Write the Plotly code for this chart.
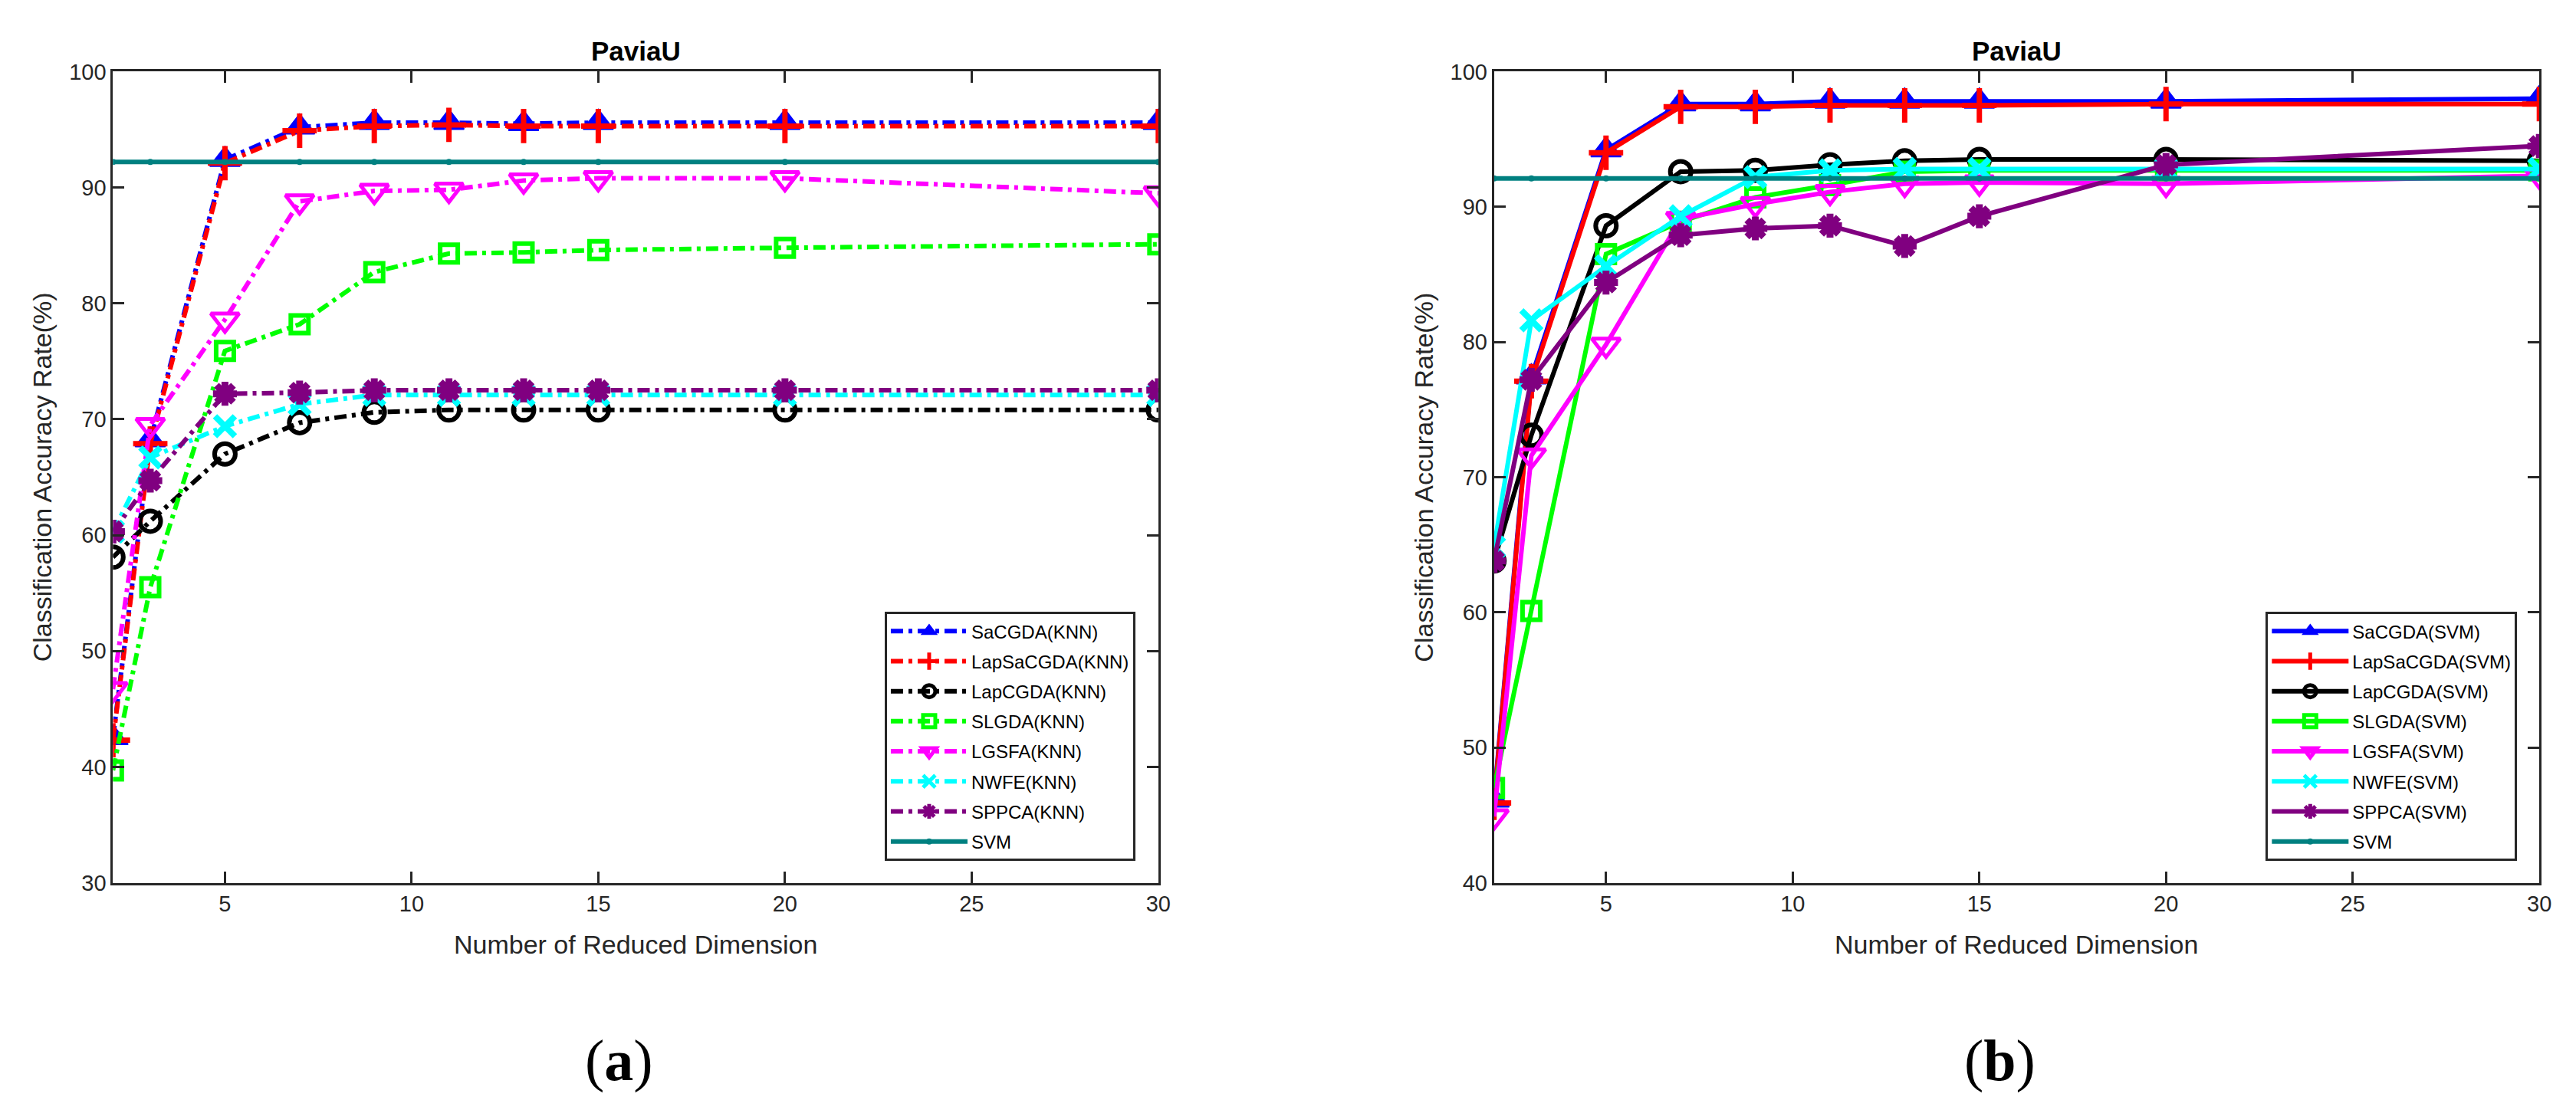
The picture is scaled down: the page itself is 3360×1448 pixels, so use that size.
import plotly.graph_objects as go

# reduced dimensions (x axis, both panels)
dims = [2, 3, 5, 7, 9, 11, 13, 15, 20, 30]

# (a) KNN classifier accuracies (%)
knn_sacgda = [42.5, 68.2, 92.4, 95.2, 95.6, 95.6, 95.5, 95.6, 95.6, 95.6]
knn_lapsacgda = [42.3, 67.9, 92.1, 94.9, 95.3, 95.4, 95.3, 95.3, 95.3, 95.3]
knn_lapcgda = [58.1, 61.2, 67.0, 69.7, 70.6, 70.8, 70.8, 70.8, 70.8, 70.8]
knn_slgda = [39.7, 55.5, 75.9, 78.2, 82.7, 84.3, 84.4, 84.6, 84.8, 85.1]
knn_lgsfa = [46.7, 69.5, 78.6, 88.8, 89.7, 89.8, 90.6, 90.8, 90.8, 89.5]
knn_nwfe = [60.3, 66.7, 69.4, 71.3, 72.1, 72.1, 72.1, 72.1, 72.1, 72.1]
knn_sppca = [60.3, 64.7, 72.2, 72.3, 72.5, 72.5, 72.5, 72.5, 72.5, 72.5]
knn_svm = [92.2] * len(dims)

# (b) SVM classifier accuracies (%)
svm_sacgda = [46.1, 77.4, 94.2, 97.6, 97.6, 97.8, 97.8, 97.8, 97.8, 98.0]
svm_lapsacgda = [45.9, 77.1, 94.0, 97.4, 97.4, 97.5, 97.5, 97.5, 97.6, 97.6]
svm_lapcgda = [63.8, 73.1, 88.6, 92.6, 92.7, 93.1, 93.4, 93.5, 93.5, 93.4]
svm_slgda = [47.0, 60.1, 86.5, 88.9, 90.7, 91.6, 92.6, 92.7, 92.7, 92.7]
svm_lgsfa = [44.9, 71.6, 79.8, 89.1, 90.2, 91.1, 91.7, 91.8, 91.7, 92.3]
svm_nwfe = [64.8, 81.6, 85.6, 89.3, 92.2, 92.7, 92.8, 92.8, 92.8, 92.8]
svm_sppca = [63.8, 77.2, 84.4, 87.9, 88.4, 88.6, 87.1, 89.3, 93.1, 94.5]
svm_svm = [92.1] * len(dims)

methods = ["SaCGDA", "LapSaCGDA", "LapCGDA", "SLGDA", "LGSFA", "NWFE", "SPPCA"]

W, H = 3360, 1448
AX = "#262626"
FONT = "Liberation Sans, Arial, sans-serif"

# (colour, marker symbol, marker size, marker line width)
STYLE = [
    ("#0000FF", "triangle-up", 34, 2),
    ("#FF0000", "cross-thin-open", 32, 7),
    ("#000000", "circle-open", 27, 6),
    ("#00FF00", "square-open", 23, 6),
    ("#FF00FF", "triangle-down-open", 32, 5),
    ("#00FFFF", "x-thin-open", 26, 8),
    ("#800080", "asterisk-open", 26, 9),
]

MATLAB_DASHDOT = "16px,7px,5px,7px"


def add_panel(fig, series, svm_vals, tag, xa, ya, legend, dash):
    for name, ys, (col, sym, size, mlw) in zip(methods, series, STYLE):
        fig.add_trace(go.Scatter(
            x=dims, y=ys, name=f"{name}({tag})", mode="lines+markers",
            xaxis=xa, yaxis=ya, legend=legend, legendgroup=f"{tag}{name}",
            line=dict(color=col, width=6, dash=dash),
            marker=dict(symbol=sym, size=size, color=col,
                        line=dict(color=col, width=mlw)),
        ))
    fig.add_trace(go.Scatter(
        x=dims, y=svm_vals, name="SVM", mode="lines+markers",
        xaxis=xa, yaxis=ya, legend=legend, legendgroup=f"{tag}svm",
        line=dict(color="#008080", width=6),
        marker=dict(symbol="circle", size=8, color="#008080"),
    ))


fig = go.Figure()
add_panel(fig, [knn_sacgda, knn_lapsacgda, knn_lapcgda, knn_slgda,
                knn_lgsfa, knn_nwfe, knn_sppca],
          knn_svm, "KNN", "x", "y", "legend", MATLAB_DASHDOT)
add_panel(fig, [svm_sacgda, svm_lapsacgda, svm_lapcgda, svm_slgda,
                svm_lgsfa, svm_nwfe, svm_sppca],
          svm_svm, "SVM", "x2", "y2", "legend2", "solid")

axis_common = dict(
    showline=True, linecolor=AX, linewidth=3, mirror="ticks",
    ticks="inside", ticklen=15, tickwidth=3, tickcolor=AX,
    showgrid=False, zeroline=False,
    tickfont=dict(family=FONT, size=29, color=AX),
)

xl = (140 / W, 1510 / W)
xr = (1950 / W, 3320 / W)
yd = (1 - 1153 / H, 1 - 71 / H)

legend_common = dict(
    font=dict(family=FONT, size=24, color="#000000"),
    bgcolor="white", bordercolor=AX, borderwidth=3,
    xanchor="right", yanchor="bottom", itemwidth=100,
    tracegroupgap=5,
)

fig.update_layout(
    width=W, height=H,
    margin=dict(l=0, r=0, t=0, b=0),
    paper_bgcolor="white", plot_bgcolor="white",
    showlegend=True,
    xaxis=dict(domain=xl, range=[2, 30], tickvals=[5, 10, 15, 20, 25, 30],
               anchor="y", **axis_common),
    yaxis=dict(domain=yd, range=[30, 100], tickvals=list(range(30, 101, 10)),
               anchor="x", **axis_common),
    xaxis2=dict(domain=xr, range=[2, 30], tickvals=[5, 10, 15, 20, 25, 30],
                anchor="y2", **axis_common),
    yaxis2=dict(domain=yd, range=[40, 100], tickvals=list(range(40, 101, 10)),
                anchor="x2", **axis_common),
    legend=dict(x=1480 / W, y=1 - 1124 / H, **legend_common),
    legend2=dict(x=3291 / W, y=1 - 1124 / H, **legend_common),
)


def label(text, x, y, size, family=FONT, color=AX, angle=0):
    fig.add_annotation(text=text, x=x, y=y, textangle=angle,
                       xref="paper", yref="paper", showarrow=False,
                       xanchor="center", yanchor="middle",
                       font=dict(family=family, size=size, color=color))


# titles, axis labels and panel tags
for cx, ax_left, tag in [((xl[0] + xl[1]) / 2, xl[0], "a"),
                         ((xr[0] + xr[1]) / 2, xr[0], "b")]:
    label("<b>PaviaU</b>", cx, 1 - 43 / H, 35, color="#000000")
    label("Number of Reduced Dimension", cx, 1 - 1235 / H, 34)
    label("Classification Accuracy Rate(%)", ax_left - 92 / W, 1 - 612 / H, 34,
          angle=-90)
    label(f"(<b>{tag}</b>)", cx - 22 / W, 1 - 1390 / H, 76,
          family="Liberation Serif, Times New Roman, serif", color="#000000")

fig.write_html("out.html")
